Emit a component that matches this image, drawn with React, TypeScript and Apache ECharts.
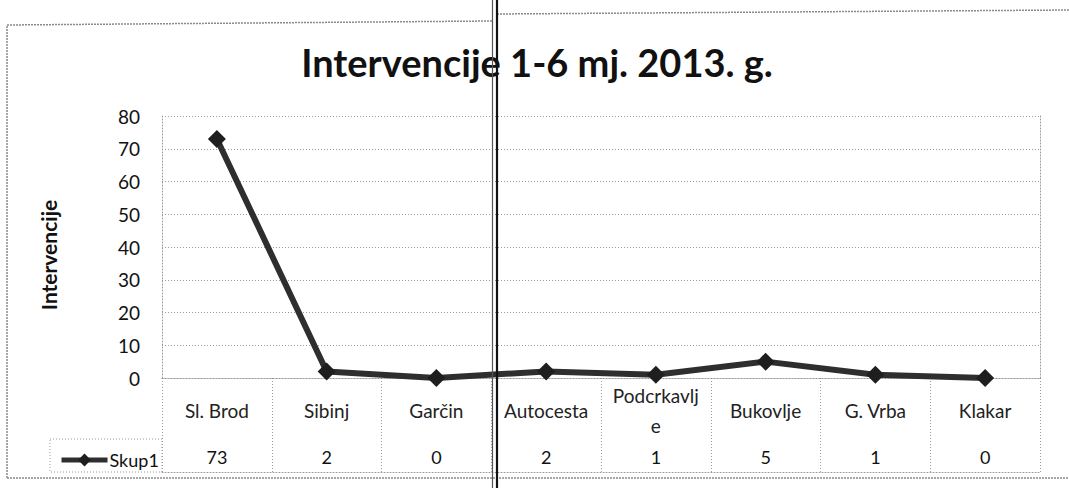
import React, { useEffect, useRef } from "react";
import * as echarts from "echarts";

const titleText = "Intervencije 1-6 mj. 2013. g.";
const yAxisName = "Intervencije";
const seriesName = "Skup1";
const categories = ["Sl. Brod", "Sibinj", "Garčin", "Autocesta", "Podcrkavlje", "Bukovlje", "G. Vrba", "Klakar"];
const values = [73, 2, 0, 2, 1, 5, 1, 0];
const yMin = 0;
const yMax = 80;
const yInterval = 10;

const FONT = "Lato, 'Open Sans', sans-serif";
const dotted = { color: "#9a9a9a", type: [1, 2] as number[], width: 1 };

export default function App() {
  const ref = useRef<HTMLDivElement>(null);
  useEffect(() => {
    if (!ref.current) return;
    const chart = echarts.init(ref.current, undefined, { renderer: "svg" });
    chart.setOption({
      animation: false,
      backgroundColor: "#ffffff",
      textStyle: { fontFamily: FONT },
      title: {
        text: titleText,
        left: 532,
        textAlign: "center",
        top: 38,
        textStyle: { fontFamily: FONT, fontWeight: "bold", fontSize: 38, color: "#111" },
      },
      legend: {
        data: [seriesName],
        left: 54,
        top: 446,
        itemWidth: 46,
        itemHeight: 16,
        itemGap: 4,
        lineStyle: { width: 5, color: "#2e2e2e" },
        textStyle: { fontFamily: FONT, fontSize: 18, color: "#111", padding: [0, 0, 0, -3] },
      },
      grid: { left: 162, right: 29, top: 116, bottom: 110, containLabel: false },
      xAxis: [
        {
          type: "category",
          data: categories,
          boundaryGap: true,
          axisLine: { show: true, lineStyle: dotted },
          axisTick: { show: true, length: 94, lineStyle: dotted },
          splitLine: { show: false },
          axisLabel: {
            margin: 32,
            verticalAlign: "middle",
            fontFamily: FONT,
            fontSize: 19,
            color: "#222",
            lineHeight: 30,
            interval: 0,
            formatter: (v: string) => (v === "Podcrkavlje" ? "Podcrkavlj\ne" : v),
          },
        },
        {
          type: "category",
          data: values.map(String),
          position: "bottom",
          offset: 61,
          boundaryGap: true,
          axisLine: { show: true, lineStyle: dotted },
          axisTick: { show: false },
          splitLine: { show: false },
          axisLabel: {
            margin: 18,
            verticalAlign: "middle",
            fontFamily: FONT,
            fontSize: 18,
            color: "#111",
            interval: 0,
          },
        },
        {
          type: "category",
          data: categories,
          position: "bottom",
          offset: 94,
          axisLine: { show: true, lineStyle: dotted },
          axisTick: { show: false },
          axisLabel: { show: false },
          splitLine: { show: false },
        },
      ],
      yAxis: [
        {
          type: "value",
          min: yMin,
          max: yMax,
          interval: yInterval,
          name: yAxisName,
          nameLocation: "middle",
          nameGap: 103,
          nameTextStyle: {
            fontFamily: FONT,
            fontWeight: "bold",
            fontSize: 21,
            color: "#111",
            padding: [0, 16, 0, 0],
          },
          axisLine: { show: true, lineStyle: dotted },
          axisTick: { show: false },
          axisLabel: { margin: 22, fontFamily: FONT, fontSize: 19, color: "#111" },
          splitLine: { show: true, lineStyle: dotted },
        },
        {
          type: "value",
          position: "right",
          min: yMin,
          max: yMax,
          interval: yInterval,
          axisLine: { show: true, lineStyle: dotted },
          axisTick: { show: false },
          axisLabel: { show: false },
          splitLine: { show: false },
        },
      ],
      series: [
        {
          type: "line",
          name: seriesName,
          data: values,
          xAxisIndex: 0,
          yAxisIndex: 0,
          symbol: "diamond",
          symbolSize: 18,
          lineStyle: { width: 6, color: "#2e2e2e" },
          itemStyle: { color: "#1e1e1e" },
          z: 5,
        },
      ],
      graphic: [
        {
          type: "rect",
          shape: { x: 50, y: 439, width: 112, height: 33 },
          style: { fill: "none", stroke: "#9a9a9a", lineWidth: 1, lineDash: [1, 2] },
          silent: true,
        },
        {
          type: "polyline",
          shape: { points: [[7, 478], [7, 25], [492, 21]] },
          style: { fill: "none", stroke: "#8a8a8a", lineWidth: 1.5, lineDash: [2, 1] },
          silent: true,
        },
        {
          type: "polyline",
          shape: { points: [[497, 14], [1069, 10]] },
          style: { fill: "none", stroke: "#8a8a8a", lineWidth: 1.5, lineDash: [2, 1] },
          silent: true,
        },
        {
          type: "line",
          shape: { x1: 7, y1: 478, x2: 1069, y2: 478 },
          style: { stroke: "#8a8a8a", lineWidth: 1.5, lineDash: [2, 1] },
          silent: true,
        },
        {
          type: "line",
          shape: { x1: 492.5, y1: 0, x2: 492.5, y2: 488 },
          style: { stroke: "#555", lineWidth: 1.2 },
          silent: true,
          z: 100,
        },
        {
          type: "line",
          shape: { x1: 497, y1: 0, x2: 497, y2: 488 },
          style: { stroke: "#111", lineWidth: 2.2 },
          silent: true,
          z: 100,
        },
      ],
    });
    return () => chart.dispose();
  }, []);
  return (
    <div
      ref={ref}
      style={{ position: "absolute", left: 0, top: 0, width: 1069, height: 488, background: "#fff" }}
    />
  );
}
